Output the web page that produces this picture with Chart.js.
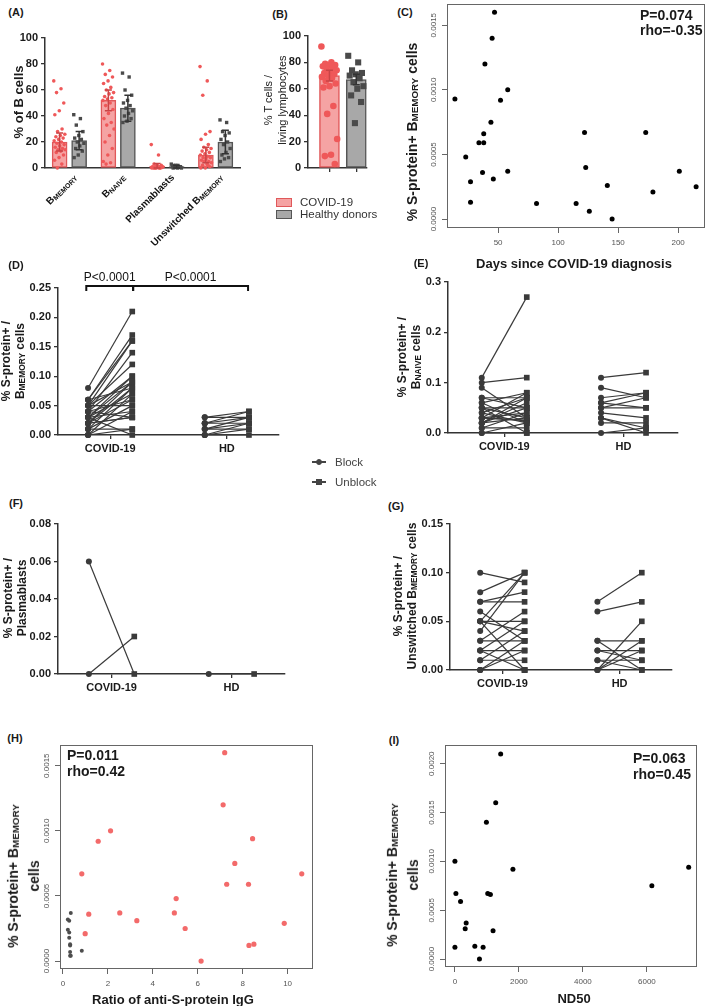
<!DOCTYPE html>
<html>
<head>
<meta charset="utf-8">
<script src="https://cdn.jsdelivr.net/npm/chart.js@4.4.1/dist/chart.umd.min.js"></script>
<style>
body { margin: 0; background: #fff; }
#fig { position: relative; width: 709px; height: 1006px; overflow: hidden; font-family: "Liberation Sans", Arial, sans-serif; color: #1a1a1a; }
#fig canvas { position: absolute; }
.t { position: absolute; white-space: nowrap; }
.s { font-size: 70%; vertical-align: -0.12em; }
</style>
</head>
<body>
<div id="fig"></div>
<script>
// ---- data ----
// (A) subsets of B cells, % of B cells
var subsetNames = [['B', 'MEMORY'], ['B', 'NAIVE'], ['Plasmablasts', ''], ['Unswitched B', 'MEMORY']];
var aCovidMean = [20, 52, 1.5, 10];
var aCovidErr = [7, 8, 2, 6];
var aHdMean = [21, 46, 1, 20];
var aHdErr = [7, 10, 1, 9];
var aCovidPts = [
  [67, 61, 58, 50, 44, 41, 30, 28, 26, 25, 24, 23, 22, 21, 20, 19, 18, 17, 16, 15, 14, 14, 13, 12, 10, 8, 6, 3, 0],
  [80, 75, 72, 70, 67, 65, 62, 60, 58, 57, 55, 54, 53, 52, 50, 48, 45, 42, 38, 35, 33, 30, 25, 20, 15, 10, 5, 4, 3],
  [18, 10, 3, 2, 2, 1, 1, 1, 0.5, 0.5, 0, 0, 0, 0, 0, 0, 1, 2, 0.5, 0, 0, 1],
  [78, 67, 56, 28, 26, 22, 18, 16, 15, 14, 13, 12, 11, 10, 9, 8, 8, 7, 6, 5, 5, 4, 3, 2, 1, 0, 0, 2]
];
var aHdPts = [
  [41, 38, 33, 28, 25, 23, 22, 20, 19, 17, 15, 13, 10, 8],
  [73, 70, 60, 56, 52, 50, 48, 46, 44, 42, 40, 38, 36, 35],
  [3, 2, 2, 1, 1, 1, 0.5, 0.5, 0, 0, 0, 1, 2],
  [37, 35, 28, 27, 25, 22, 20, 18, 15, 12, 10, 8, 7, 5]
];
// (B) % T cells / living lymphocytes
var bMeans = [70, 67];
var bErr = [4, 4];
var bCovidPts = [92, 80, 79, 78, 78, 77, 76, 75, 74, 73, 72, 71, 70, 69, 68, 66, 64, 62, 61, 47, 41, 22, 10, 9, 3];
var bHdPts = [85, 80, 74, 72, 71, 70, 68, 65, 62, 60, 55, 50, 34];
// (C) days since diagnosis vs S-protein+ Bmemory
var cDays = [14, 23, 27, 27, 34, 37, 38, 38, 39, 44, 45, 46, 47, 52, 58, 58, 82, 115, 122, 123, 126, 141, 145, 173, 179, 201, 215];
var cSpec = [0.00093, 0.00048, 0.00029, 0.00013, 0.00059, 0.00036, 0.00066, 0.00059, 0.0012, 0.00075, 0.0014, 0.00031, 0.0016, 0.00092, 0.001, 0.00037, 0.00012, 0.00012, 0.00067, 0.0004, 0.00006, 0.00026, 0, 0.00067, 0.00021, 0.00037, 0.00025];
// (D) Bmemory block / unblock
var dCovidBlock = [0.08, 0.06, 0.05, 0.06, 0.04, 0.05, 0.03, 0.04, 0.02, 0.03, 0.01, 0.02, 0.00, 0.03, 0.04, 0.02, 0.05, 0.01, 0.00, 0.03, 0.04, 0.02, 0.06, 0.01, 0.00, 0.03, 0.02, 0.05];
var dCovidUnblock = [0.21, 0.17, 0.16, 0.16, 0.14, 0.12, 0.10, 0.10, 0.09, 0.09, 0.08, 0.08, 0.07, 0.07, 0.06, 0.06, 0.05, 0.05, 0.04, 0.04, 0.03, 0.03, 0.08, 0.01, 0.01, 0.00, 0.03, 0.09];
var dHdBlock = [0.03, 0.02, 0.02, 0.01, 0.01, 0.00, 0.00, 0.03, 0.02, 0.01, 0.00];
var dHdUnblock = [0.04, 0.03, 0.04, 0.02, 0.03, 0.01, 0.02, 0.03, 0.02, 0.01, 0.00];
// (E) Bnaive
var eCovidBlock = [0.11, 0.10, 0.09, 0.07, 0.07, 0.06, 0.06, 0.05, 0.05, 0.04, 0.04, 0.03, 0.03, 0.03, 0.02, 0.02, 0.02, 0.01, 0.01, 0.00, 0.00, 0.03, 0.05, 0.02];
var eCovidUnblock = [0.27, 0.11, 0.03, 0.07, 0.05, 0.02, 0.08, 0.03, 0.05, 0.07, 0.02, 0.08, 0.04, 0.025, 0.07, 0.03, 0.05, 0.01, 0.04, 0.00, 0.02, 0.025, 0.00, 0.06];
var eHdBlock = [0.11, 0.09, 0.07, 0.06, 0.05, 0.04, 0.03, 0.03, 0.02, 0.00, 0.06, 0.05];
var eHdUnblock = [0.12, 0.07, 0.08, 0.05, 0.07, 0.03, 0.01, 0.00, 0.02, 0.01, 0.08, 0.05];
// (F) plasmablasts
var fCovidBlock = [0.06, 0.00];
var fCovidUnblock = [0.00, 0.02];
var fHdBlock = [0.00];
var fHdUnblock = [0.00];
// (G) unswitched Bmemory
var gCovidBlock = [0.10, 0.08, 0.07, 0.07, 0.06, 0.05, 0.05, 0.05, 0.04, 0.03, 0.03, 0.02, 0.02, 0.01, 0.01, 0.00, 0.00, 0.00, 0.05, 0.02];
var gCovidUnblock = [0.09, 0.10, 0.07, 0.08, 0.03, 0.05, 0.10, 0.00, 0.10, 0.03, 0.06, 0.02, 0.00, 0.01, 0.04, 0.02, 0.03, 0.00, 0.04, 0.05];
var gHdBlock = [0.07, 0.06, 0.03, 0.03, 0.02, 0.02, 0.01, 0.00, 0.00, 0.00, 0.01];
var gHdUnblock = [0.10, 0.07, 0.03, 0.00, 0.02, 0.01, 0.01, 0.05, 0.03, 0.02, 0.00];
// (H) ratio of anti-S IgG vs S-protein+ Bmemory
var hRatio = [7.2, 7.13, 2.12, 1.57, 8.44, 7.65, 10.63, 0.84, 7.29, 8.26, 5.04, 1.15, 2.53, 4.96, 3.29, 5.44, 0.99, 9.85, 8.28, 8.5, 6.15];
var hSpec = [0.0016, 0.0012, 0.001, 0.00092, 0.00094, 0.00075, 0.00067, 0.00067, 0.00059, 0.00059, 0.00048, 0.00036, 0.00037, 0.00037, 0.00031, 0.00025, 0.00021, 0.00029, 0.00012, 0.00013, 0];
var hRatioHd = [0.35, 0.22, 0.28, 0.22, 0.28, 0.28, 0.32, 0.32, 0.84, 0.32, 0.32, 0.35];
var hSpecHd = [0.00037, 0.00032, 0.00031, 0.00024, 0.00022, 0.00018, 0.00013, 0.00012, 0.00008, 0.00007, 0.00004, 0.00004];
// (I) ND50 vs S-protein+ Bmemory
var iNd50 = [1430, 1275, 984, 0, 1813, 7306, 6155, 31, 1026, 1109, 176, 352, 321, 1192, 0, 622, 881, 767];
var iSpec = [0.0021, 0.0016, 0.0014, 0.001, 0.00092, 0.00094, 0.00075, 0.00067, 0.00067, 0.00066, 0.00059, 0.00037, 0.00031, 0.00029, 0.00012, 0.00013, 0.00012, 0];

var groupNames = ['COVID-19', 'HD'];

// ---- setup ----
var FONT = '"Liberation Sans", Arial, sans-serif';
Chart.defaults.font.family = FONT;
Chart.defaults.color = '#1a1a1a';
Chart.defaults.animation = false;
Chart.defaults.responsive = false;
Chart.defaults.plugins.legend.display = false;
Chart.defaults.plugins.tooltip.enabled = false;

var PINK = '#f5a3a3', PINK_LINE = '#e0585a', PINK_DOT = '#ef5859';
var GREY = '#a8a8a8', GREY_LINE = '#555', GREY_DOT = '#4a4a4a';
var fig = document.getElementById('fig');

// canvas whose chart area lands on area = [left, top, right, bottom]; m = margins [l, t, r, b]
function place(area, m) {
  var c = document.createElement('canvas');
  var w = area[2] - area[0] + m[0] + m[2], h = area[3] - area[1] + m[1] + m[3];
  c.width = w; c.height = h;
  c.style.left = (area[0] - m[0]) + 'px';
  c.style.top = (area[1] - m[1]) + 'px';
  c.style.width = w + 'px'; c.style.height = h + 'px';
  fig.appendChild(c);
  return c;
}

function put(html, x, y, css, rot, anchorLeft) {
  var d = document.createElement('div');
  d.className = 't';
  d.innerHTML = html;
  d.style.left = x + 'px';
  d.style.top = y + 'px';
  d.style.cssText += css || '';
  d.style.transform = anchorLeft ? 'translate(0,-50%)' : 'translate(-50%,-50%)' + (rot ? ' rotate(-90deg)' : '');
  fig.appendChild(d);
  return d;
}

var jit = function (j) { return ((j * 0.618034) % 1) * 2 - 1; };
var sizeFit = function (n) {
  return function (s) { if (s.isHorizontal()) s.height = n; else s.width = n; };
};

function gpAxis(min, max, ticks, fmt, fitSize) {
  return {
    type: 'linear', min: min, max: max, offset: false,
    afterBuildTicks: function (s) { s.ticks = ticks.map(function (v) { return { value: v }; }); },
    ticks: { callback: fmt, font: { size: 11, weight: 'bold' }, color: '#1a1a1a', padding: 3, autoSkip: false, maxRotation: 0 },
    grid: { display: true, offset: false, drawOnChartArea: false, drawTicks: true, tickLength: 4, color: '#333', lineWidth: 1.3 },
    border: { display: true, color: '#333', width: 1.5 },
    afterFit: sizeFit(fitSize)
  };
}

// error bars on top of bar datasets
var errorBars = {
  id: 'errorBars',
  afterDatasetsDraw: function (chart, args, opts) {
    var ctx = chart.ctx, y = chart.scales.y;
    (opts.sets || []).forEach(function (s) {
      var meta = chart.getDatasetMeta(s.index);
      meta.data.forEach(function (bar, i) {
        var top = y.getPixelForValue(s.mean[i] + s.err[i]);
        var bot = y.getPixelForValue(Math.max(0, s.mean[i] - s.err[i]));
        var col = Array.isArray(s.color) ? s.color[i] : s.color;
        ctx.save();
        ctx.strokeStyle = col; ctx.lineWidth = 1.5;
        ctx.beginPath();
        ctx.moveTo(bar.x, top); ctx.lineTo(bar.x, bot);
        ctx.moveTo(bar.x - 3.5, top); ctx.lineTo(bar.x + 3.5, top);
        ctx.moveTo(bar.x - 3.5, bot); ctx.lineTo(bar.x + 3.5, bot);
        ctx.stroke();
        ctx.restore();
      });
    });
  }
};

// rotated category labels with subscripts (panel A)
var catLabels = {
  id: 'catLabels',
  afterDraw: function (chart, args, opts) {
    if (!opts.labels) return;
    var ctx = chart.ctx, x = chart.scales.x, a = chart.chartArea;
    opts.labels.forEach(function (parts, i) {
      var segs = [{ t: parts[0], f: 'bold 10px ' + FONT, dy: 0 }, { t: parts[1], f: 'bold 7px ' + FONT, dy: 2 }];
      var w = 0;
      ctx.save();
      segs.forEach(function (s) { ctx.font = s.f; s.w = ctx.measureText(s.t).width; w += s.w; });
      ctx.translate(x.getPixelForValue(i) + 6, a.bottom + 8);
      ctx.rotate(-Math.PI / 4);
      ctx.fillStyle = '#111'; ctx.textBaseline = 'middle'; ctx.textAlign = 'left';
      var cx = -w;
      segs.forEach(function (s) { ctx.font = s.f; ctx.fillText(s.t, cx, s.dy); cx += s.w; });
      ctx.restore();
    });
  }
};

// R style frame and vertical y tick labels
var rFrame = {
  id: 'rFrame',
  afterDraw: function (chart, args, opts) {
    if (!opts.on) return;
    var ctx = chart.ctx, a = chart.chartArea, y = chart.scales.y;
    ctx.save();
    ctx.strokeStyle = '#666'; ctx.lineWidth = 1;
    ctx.strokeRect(a.left + 0.5, a.top + 0.5, a.right - a.left - 1, a.bottom - a.top - 1);
    ctx.font = '8px ' + FONT; ctx.fillStyle = '#555';
    ctx.textAlign = 'center'; ctx.textBaseline = 'middle';
    y.ticks.forEach(function (t) {
      ctx.save();
      ctx.translate(a.left - 13, y.getPixelForValue(t.value));
      ctx.rotate(-Math.PI / 2);
      ctx.fillText(t.value.toFixed(4), 0, 0);
      ctx.restore();
    });
    ctx.restore();
  }
};

// significance brackets (panel D)
var brackets = {
  id: 'brackets',
  afterDraw: function (chart, args, opts) {
    if (!opts.items) return;
    var ctx = chart.ctx, x = chart.scales.x, y = chart.scales.y;
    var yl = y.getPixelForValue(opts.level), yd = y.getPixelForValue(opts.drop);
    ctx.save();
    ctx.strokeStyle = '#111'; ctx.lineWidth = 2;
    ctx.font = '12px ' + FONT; ctx.fillStyle = '#111';
    ctx.textAlign = 'center'; ctx.textBaseline = 'middle';
    opts.items.forEach(function (it) {
      var x0 = x.getPixelForValue(it.from), x1 = x.getPixelForValue(it.to);
      ctx.beginPath();
      ctx.moveTo(x0, yd); ctx.lineTo(x0, yl); ctx.lineTo(x1, yl); ctx.lineTo(x1, yd);
      ctx.stroke();
      ctx.fillText(it.label, (x0 + x1) / 2, yl - 8);
    });
    ctx.restore();
  }
};
Chart.register(errorBars, catLabels, rFrame, brackets);

// ---- (A) ----
function jitterPts(groups, shift, spread) {
  var out = [];
  groups.forEach(function (vals, i) {
    vals.forEach(function (v, j) { out.push({ x: i + shift + jit(j) * spread, y: v }); });
  });
  return out;
}
function barPts(means, shift) {
  return means.map(function (v, i) { return { x: i + shift, y: v }; });
}
(function () {
  var m = [40, 10, 8, 92];
  var cv = place([45, 38, 240, 168], m);
  new Chart(cv, {
    type: 'bar',
    data: {
      datasets: [
        { type: 'scatter', data: jitterPts(aCovidPts, -0.2, 0.12), pointStyle: 'circle', pointRadius: 1.8, backgroundColor: PINK_DOT, borderWidth: 0, order: 1, clip: false, grouped: false },
        { type: 'scatter', data: jitterPts(aHdPts, 0.2, 0.11), pointStyle: 'rect', pointRadius: 2.4, backgroundColor: GREY_DOT, borderWidth: 0, order: 1, clip: false, grouped: false },
        { label: 'COVID-19', data: barPts(aCovidMean, -0.2), backgroundColor: PINK, borderColor: PINK_LINE, borderWidth: 1.5, borderSkipped: false, barThickness: 15, grouped: false, order: 2 },
        { label: 'Healthy donors', data: barPts(aHdMean, 0.2), backgroundColor: GREY, borderColor: GREY_LINE, borderWidth: 1.5, borderSkipped: false, barThickness: 15, grouped: false, order: 2 }
      ]
    },
    options: {
      layout: { padding: { left: 0, top: m[1], right: m[2], bottom: 0 } },
      scales: {
        x: {
          type: 'linear', min: -0.5, max: 3.5, offset: false,
          ticks: { display: false },
          grid: { display: false, offset: false },
          border: { display: true, color: '#333', width: 1.5 },
          afterFit: sizeFit(m[3])
        },
        y: gpAxis(0, 100, [0, 20, 40, 60, 80, 100], function (v) { return v; }, m[0])
      },
      plugins: {
        errorBars: { sets: [{ index: 2, mean: aCovidMean, err: aCovidErr, color: '#c94446' }, { index: 3, mean: aHdMean, err: aHdErr, color: '#333' }] },
        catLabels: { labels: subsetNames }
      }
    }
  });
})();

// ---- (B) ----
(function () {
  var m = [35, 10, 6, 20];
  var cv = place([308, 36, 367, 168], m);
  var pos = [0.8, 1.8];
  new Chart(cv, {
    type: 'bar',
    data: {
      datasets: [
        { type: 'scatter', data: bCovidPts.map(function (v, j) { return { x: pos[0] + jit(j) * 0.3, y: v }; }), pointStyle: 'circle', pointRadius: 3.3, backgroundColor: PINK_DOT, borderWidth: 0, order: 1, clip: false, grouped: false },
        { type: 'scatter', data: bHdPts.map(function (v, j) { return { x: pos[1] + jit(j) * 0.3, y: v }; }), pointStyle: 'rect', pointRadius: 4.3, backgroundColor: GREY_DOT, borderWidth: 0, order: 1, clip: false, grouped: false },
        { data: pos.map(function (p, i) { return { x: p, y: bMeans[i] }; }), backgroundColor: [PINK, GREY], borderColor: [PINK_LINE, GREY_LINE], borderWidth: 1.5, borderSkipped: false, barThickness: 20, grouped: false, order: 2 }
      ]
    },
    options: {
      layout: { padding: { left: 0, top: m[1], right: m[2], bottom: 0 } },
      scales: {
        x: {
          type: 'linear', min: 0, max: 2.2, offset: false,
          afterBuildTicks: function (s) { s.ticks = pos.map(function (v) { return { value: v }; }); },
          ticks: { display: false },
          grid: { display: true, offset: false, drawOnChartArea: false, drawTicks: true, tickLength: 4, color: '#333', lineWidth: 1.3 },
          border: { display: true, color: '#333', width: 1.5 },
          afterFit: sizeFit(m[3])
        },
        y: gpAxis(0, 100, [0, 20, 40, 60, 80, 100], function (v) { return v; }, m[0])
      },
      plugins: {
        errorBars: { sets: [{ index: 2, mean: bMeans, err: bErr, color: ['#c94446', '#333'] }] }
      }
    }
  });
})();

// ---- R style scatter plots (C, H, I) ----
function rScatter(area, m, sets, xr, xt, yr, yt) {
  var cv = place(area, m);
  return new Chart(cv, {
    type: 'scatter',
    data: {
      datasets: sets.map(function (s) {
        return { data: s.x.map(function (v, i) { return { x: v, y: s.y[i] }; }), pointRadius: s.r, backgroundColor: s.color, borderWidth: 0, clip: false };
      })
    },
    options: {
      layout: { padding: { left: 0, top: m[1], right: m[2], bottom: 0 } },
      scales: {
        x: {
          type: 'linear', min: xr[0], max: xr[1],
          afterBuildTicks: function (s) { s.ticks = xt.map(function (v) { return { value: v }; }); },
          ticks: { callback: function (v) { return v; }, font: { size: 8 }, color: '#555', padding: 5, maxRotation: 0, autoSkip: false },
          grid: { display: true, drawOnChartArea: false, drawTicks: true, tickLength: 5, color: '#666' },
          border: { display: false },
          afterFit: sizeFit(m[3])
        },
        y: {
          type: 'linear', min: yr[0], max: yr[1],
          afterBuildTicks: function (s) { s.ticks = yt.map(function (v) { return { value: v }; }); },
          ticks: { display: false },
          grid: { display: true, drawOnChartArea: false, drawTicks: true, tickLength: 5, color: '#666' },
          border: { display: false },
          afterFit: sizeFit(m[0])
        }
      },
      plugins: { rFrame: { on: true } }
    }
  });
}

rScatter([447, 1, 708, 228], [30, 1, 1, 22],
  [{ x: cDays, y: cSpec, r: 2.5, color: '#000' }],
  [7.4, 222.4], [50, 100, 150, 200], [-0.0000687, 0.001664], [0, 0.0005, 0.001, 0.0015]);

rScatter([60, 743, 315, 969], [25, 2, 2, 25],
  [{ x: hRatio, y: hSpec, r: 2.6, color: '#f36a6a' }, { x: hRatioHd, y: hSpecHd, r: 2, color: '#4d4d4d' }],
  [-0.13, 11.13], [0, 2, 4, 6, 8, 10], [-0.0000609, 0.001659], [0, 0.0005, 0.001, 0.0015]);

rScatter([445, 743, 699, 967], [25, 2, 2, 25],
  [{ x: iNd50, y: iSpec, r: 2.5, color: '#000' }],
  [-310, 7566], [0, 2000, 4000, 6000], [-0.0000811, 0.002191], [0, 0.0005, 0.001, 0.0015, 0.002]);

// ---- paired block / unblock plots (D-G) ----
function pairedPlot(area, m, groups, xPos, centers, xMax, yMax, yTicks, dec, extra) {
  var cv = place(area, m);
  var ds = [];
  groups.forEach(function (g, gi) {
    g[0].forEach(function (v, i) {
      ds.push({
        data: [{ x: xPos[gi * 2], y: v }, { x: xPos[gi * 2 + 1], y: g[1][i] }],
        showLine: true, borderColor: '#3a3a3a', borderWidth: 1.2,
        pointStyle: ['circle', 'rect'], pointRadius: [3, 4],
        pointBackgroundColor: '#3a3a3a', pointBorderWidth: 0, clip: false
      });
    });
  });
  return new Chart(cv, {
    type: 'scatter',
    data: { datasets: ds },
    options: {
      layout: { padding: { left: 0, top: m[1], right: m[2], bottom: 0 } },
      scales: {
        x: gpAxis(0, xMax, centers, function (v, i) { return groupNames[i]; }, m[3]),
        y: gpAxis(0, yMax, yTicks, function (v) { return v.toFixed(dec); }, m[0])
      },
      plugins: extra || {}
    }
  });
}

var stdPos = [0.68, 1.68, 3.32, 4.32], stdCenters = [1.18, 3.82];

pairedPlot([58, 288, 279, 435], [40, 30, 10, 22],
  [[dCovidBlock, dCovidUnblock], [dHdBlock, dHdUnblock]], stdPos, stdCenters, 5,
  0.25, [0, 0.05, 0.10, 0.15, 0.20, 0.25], 2,
  { brackets: { level: 0.2535, drop: 0.245, items: [{ from: 0.64, to: 1.7, label: 'P<0.0001' }, { from: 1.7, to: 4.3, label: 'P<0.0001' }] } });

pairedPlot([448, 282, 678, 433], [40, 10, 10, 22],
  [[eCovidBlock, eCovidUnblock], [eHdBlock, eHdUnblock]], [0.75, 1.75, 3.4, 4.4], [1.25, 3.9], 5.11,
  0.3, [0, 0.1, 0.2, 0.3], 1);

pairedPlot([58, 524, 285, 674], [40, 10, 10, 22],
  [[fCovidBlock, fCovidUnblock], [fHdBlock, fHdUnblock]], stdPos, stdCenters, 5,
  0.08, [0, 0.02, 0.04, 0.06, 0.08], 2);

pairedPlot([450, 524, 672, 670], [40, 10, 10, 22],
  [[gCovidBlock, gCovidUnblock], [gHdBlock, gHdUnblock]], stdPos, stdCenters, 5,
  0.15, [0, 0.05, 0.10, 0.15], 2);

// ---- text: panel letters, axis titles, legends ----
var MEM = 'B<span class="s">MEMORY</span>';
[['(A)', 16, 12], ['(B)', 280, 14], ['(C)', 405, 12], ['(D)', 16, 265], ['(E)', 421, 263],
 ['(F)', 16, 503], ['(G)', 396, 506], ['(H)', 15, 738], ['(I)', 394, 740]].forEach(function (p) {
  put(p[0], p[1], p[2], 'font-weight:bold;font-size:11px;');
});

put('% of B cells', 18, 102, 'font-weight:bold;font-size:13px;', true);
put('% T cells /<br>living lymphocytes', 275, 100, 'font-size:11px;line-height:14px;text-align:center;', true);
put('% S-protein+ ' + MEM + ' cells', 412, 132, 'font-weight:bold;font-size:14px;', true);
put('Days since COVID-19 diagnosis', 574, 263, 'font-weight:bold;font-size:13px;');
put('% S-protein+ /<br>' + MEM + ' cells', 14, 361, 'font-weight:bold;font-size:12px;line-height:14px;text-align:center;', true);
put('% S-protein+ /<br>B<span class="s">NAIVE</span> cells', 410, 357, 'font-weight:bold;font-size:12px;line-height:14px;text-align:center;', true);
put('% S-protein+ /<br>Plasmablasts', 15, 598, 'font-weight:bold;font-size:12px;line-height:14px;text-align:center;', true);
put('% S-protein+ /<br>Unswitched ' + MEM + ' cells', 406, 596, 'font-weight:bold;font-size:12px;line-height:14px;text-align:center;', true);
put('% S-protein+ ' + MEM + '<br>cells', 24, 876, 'font-weight:bold;font-size:14px;line-height:19px;text-align:center;', true);
put('% S-protein+ ' + MEM + '<br>cells', 403, 875, 'font-weight:bold;font-size:14px;line-height:19px;text-align:center;', true);
put('Ratio of anti-S-protein IgG', 173, 999, 'font-weight:bold;font-size:13px;');
put('ND50', 574, 998, 'font-weight:bold;font-size:13px;');

put('P=0.074<br>rho=-0.35', 640, 23, 'font-weight:bold;font-size:14px;line-height:15px;', false, true);
put('P=0.011<br>rho=0.42', 67, 763, 'font-weight:bold;font-size:14px;line-height:16px;', false, true);
put('P=0.063<br>rho=0.45', 633, 766, 'font-weight:bold;font-size:14px;line-height:16px;', false, true);

// legend for A/B
function box(x, y, w, h, fill, line) {
  var d = document.createElement('div');
  d.style.cssText = 'position:absolute;left:' + x + 'px;top:' + y + 'px;width:' + w + 'px;height:' + h + 'px;background:' + fill + ';border:1.5px solid ' + line + ';box-sizing:border-box;';
  fig.appendChild(d);
  return d;
}
box(276, 198, 16, 9, PINK, PINK_LINE);
box(276, 210, 16, 9, GREY, GREY_LINE);
put('COVID-19', 300, 202, 'font-size:11.5px;color:#333;', false, true);
put('Healthy donors', 300, 214, 'font-size:11.5px;color:#333;', false, true);

// legend for block / unblock
box(312, 461, 14, 2, '#444', '#444').style.border = 'none';
box(312, 481, 14, 2, '#444', '#444').style.border = 'none';
box(316, 459, 6, 6, '#444', '#444').style.borderRadius = '50%';
box(316, 479, 6, 6, '#444', '#444');
put('Block', 335, 462, 'font-size:11.5px;color:#444;', false, true);
put('Unblock', 335, 482, 'font-size:11.5px;color:#444;', false, true);
</script>
</body>
</html>
